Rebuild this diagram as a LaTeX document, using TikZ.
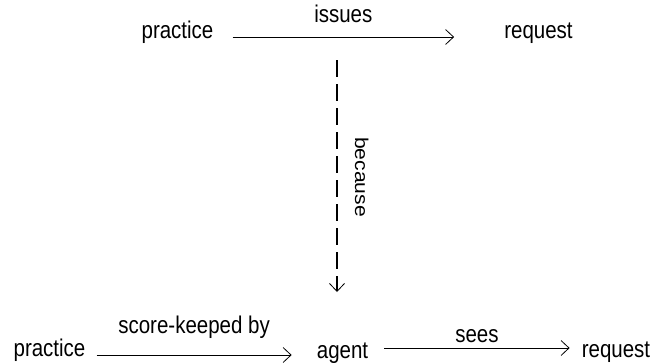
\documentclass[tikz,border=0pt]{standalone}
\usepackage{fontspec}
\setmainfont{Liberation Sans}
\usetikzlibrary{arrows.meta,calc}
% text set slightly tall, as in the original drawing
\newcommand\talltext[1]{\scalebox{1}[1.18]{#1}}
\newcommand\longtext[1]{\scalebox{1.14}[1]{#1}}
\begin{document}
\begin{tikzpicture}[x=1pt,y=-1pt,
  term/.style={inner sep=0pt, anchor=base, font=\fontsize{20.5}{24}\selectfont},
  lbl/.style={inner sep=0pt, anchor=base, font=\fontsize{20.5}{24}\selectfont},
  rel/.style={line width=0.8pt, -{Straight Barb[length=8pt,width=15pt]}},
  cause/.style={line width=2.8pt, dash pattern=on 17pt off 7pt,
    -{Straight Barb[length=8pt,width=15pt,line width=0.8pt]}}]
  \useasboundingbox (0,0) rectangle (654,362);

  % upper statement
  \node[term] (p1) at (177.5,38) {\talltext{practice}};
  \node[term] (r1) at (538.5,38) {\talltext{request}};
  \draw[rel] ($(p1.base east)+(19,-1)$) -- node[lbl, yshift=15pt] {\talltext{issues}}
             ($(r1.base west)+(-50,-1)$);

  % lower statement
  \node[term] (p2) at (49.5,356) {\talltext{practice}};
  \node[term] (ag) at (342.5,358) {\talltext{agent}};
  \node[term] (r2) at (616,357) {\talltext{request}};
  \draw[rel] ($(p2.base east)+(11,-1)$) -- node[lbl, yshift=22pt] {\talltext{score-keeped by}}
             ($(ag.base west)+(-25,-3)$);
  \draw[rel] ($(ag.base east)+(16,-10)$) -- node[lbl, yshift=6pt] {\talltext{sees}}
             ($(r2.base west)+(-12,-9)$);

  % causal link between the two
  \coordinate (cs) at (337,60);
  \draw[cause] (cs) -- ($(ag.base)+(-5.5,-66)$);
  \node[lbl, rotate=-90, font=\fontsize{18.5}{22}\selectfont] (bc) at (355,177) {\longtext{because}};
\end{tikzpicture}
\end{document}
